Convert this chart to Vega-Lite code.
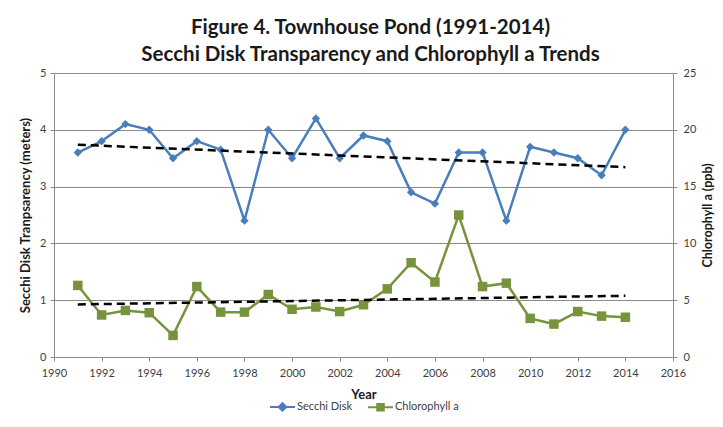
{
  "$schema": "https://vega.github.io/schema/vega-lite/v6.json",
  "width": 619,
  "height": 284,
  "autosize": "none",
  "padding": {"left": 54, "top": 73, "right": 50, "bottom": 70},
  "background": "white",
  "title": {
    "text": ["Figure 4. Townhouse Pond (1991-2014)", "Secchi Disk Transparency and Chlorophyll a Trends"],
    "font": "Lato",
    "fontSize": 20.5,
    "fontWeight": "bold",
    "color": "#1a1a1a",
    "lineHeight": 27,
    "anchor": "middle",
    "dx": 7,
    "offset": 2
  },
  "data": {
    "values": [
      {"year": 1991, "series": "Secchi Disk", "value": 3.6},
      {"year": 1992, "series": "Secchi Disk", "value": 3.8},
      {"year": 1993, "series": "Secchi Disk", "value": 4.1},
      {"year": 1994, "series": "Secchi Disk", "value": 4.0},
      {"year": 1995, "series": "Secchi Disk", "value": 3.5},
      {"year": 1996, "series": "Secchi Disk", "value": 3.8},
      {"year": 1997, "series": "Secchi Disk", "value": 3.65},
      {"year": 1998, "series": "Secchi Disk", "value": 2.4},
      {"year": 1999, "series": "Secchi Disk", "value": 4.0},
      {"year": 2000, "series": "Secchi Disk", "value": 3.5},
      {"year": 2001, "series": "Secchi Disk", "value": 4.2},
      {"year": 2002, "series": "Secchi Disk", "value": 3.5},
      {"year": 2003, "series": "Secchi Disk", "value": 3.9},
      {"year": 2004, "series": "Secchi Disk", "value": 3.8},
      {"year": 2005, "series": "Secchi Disk", "value": 2.9},
      {"year": 2006, "series": "Secchi Disk", "value": 2.7},
      {"year": 2007, "series": "Secchi Disk", "value": 3.6},
      {"year": 2008, "series": "Secchi Disk", "value": 3.6},
      {"year": 2009, "series": "Secchi Disk", "value": 2.4},
      {"year": 2010, "series": "Secchi Disk", "value": 3.7},
      {"year": 2011, "series": "Secchi Disk", "value": 3.6},
      {"year": 2012, "series": "Secchi Disk", "value": 3.5},
      {"year": 2013, "series": "Secchi Disk", "value": 3.2},
      {"year": 2014, "series": "Secchi Disk", "value": 4.0},
      {"year": 1991, "series": "Chlorophyll a", "value": 6.3},
      {"year": 1992, "series": "Chlorophyll a", "value": 3.7},
      {"year": 1993, "series": "Chlorophyll a", "value": 4.1},
      {"year": 1994, "series": "Chlorophyll a", "value": 3.9},
      {"year": 1995, "series": "Chlorophyll a", "value": 1.9},
      {"year": 1996, "series": "Chlorophyll a", "value": 6.2},
      {"year": 1997, "series": "Chlorophyll a", "value": 3.95},
      {"year": 1998, "series": "Chlorophyll a", "value": 3.95},
      {"year": 1999, "series": "Chlorophyll a", "value": 5.5},
      {"year": 2000, "series": "Chlorophyll a", "value": 4.2},
      {"year": 2001, "series": "Chlorophyll a", "value": 4.4},
      {"year": 2002, "series": "Chlorophyll a", "value": 4.0},
      {"year": 2003, "series": "Chlorophyll a", "value": 4.6},
      {"year": 2004, "series": "Chlorophyll a", "value": 6.0},
      {"year": 2005, "series": "Chlorophyll a", "value": 8.3},
      {"year": 2006, "series": "Chlorophyll a", "value": 6.6},
      {"year": 2007, "series": "Chlorophyll a", "value": 12.5},
      {"year": 2008, "series": "Chlorophyll a", "value": 6.2},
      {"year": 2009, "series": "Chlorophyll a", "value": 6.5},
      {"year": 2010, "series": "Chlorophyll a", "value": 3.4},
      {"year": 2011, "series": "Chlorophyll a", "value": 2.9},
      {"year": 2012, "series": "Chlorophyll a", "value": 4.0},
      {"year": 2013, "series": "Chlorophyll a", "value": 3.6},
      {"year": 2014, "series": "Chlorophyll a", "value": 3.5}
    ]
  },
  "encoding": {
    "x": {
      "field": "year",
      "type": "quantitative",
      "scale": {"domain": [1990, 2016], "nice": false, "zero": false},
      "axis": {
        "title": "Year",
        "values": [1990, 1992, 1994, 1996, 1998, 2000, 2002, 2004, 2006, 2008, 2010, 2012, 2014, 2016],
        "format": "d",
        "grid": false,
        "labelFlush": false,
        "tickSize": 4,
        "labelPadding": 6,
        "titlePadding": 10
      }
    }
  },
  "layer": [
    {
      "transform": [{"filter": "datum.series === 'Secchi Disk'"}],
      "encoding": {
        "y": {
          "field": "value",
          "type": "quantitative",
          "scale": {"domain": [0, 5], "nice": false},
          "axis": {
            "orient": "left",
            "title": "Secchi Disk Tranpsarency (meters)",
            "titleFontSize": 13,
            "values": [0, 1, 2, 3, 4, 5],
            "grid": true,
            "tickSize": 4,
            "labelPadding": 4,
            "titlePadding": 7
          }
        }
      },
      "layer": [
        {
          "mark": {"type": "line", "strokeWidth": 2.5, "point": {"shape": "diamond", "size": 70, "filled": true, "opacity": 1}},
          "encoding": {
            "color": {
              "field": "series",
              "type": "nominal",
              "scale": {"domain": ["Secchi Disk", "Chlorophyll a"], "range": ["#4A7EBB", "#77933C"]},
              "legend": {
                "orient": "bottom",
                "title": null,
                "direction": "horizontal",
                "symbolSize": 625,
                "labelOffset": 1,
                "columnPadding": 12,
                "offset": -8,
                "encode": {
                  "symbols": {
                    "update": {
                      "shape": {"signal": "datum.value === 'Secchi Disk' ? 'M-1,0L1,0M0,-0.3L0.3,0L0,0.3L-0.3,0Z' : 'M-1,0L1,0M-0.26,-0.26L0.26,-0.26L0.26,0.26L-0.26,0.26Z'"},
                      "fill": {"signal": "datum.value === 'Secchi Disk' ? '#4A7EBB' : '#77933C'"},
                      "stroke": {"signal": "datum.value === 'Secchi Disk' ? '#4A7EBB' : '#77933C'"},
                      "strokeWidth": {"value": 2},
                      "opacity": {"value": 1},
                      "fillOpacity": {"value": 1}
                    }
                  }
                }
              }
            }
          }
        },
        {
          "transform": [{"regression": "value", "on": "year", "extent": [1991, 2014]}],
          "mark": {"type": "line", "color": "black", "strokeWidth": 2.5, "strokeDash": [8, 5]}
        }
      ]
    },
    {
      "transform": [{"filter": "datum.series === 'Chlorophyll a'"}],
      "encoding": {
        "y": {
          "field": "value",
          "type": "quantitative",
          "scale": {"domain": [0, 25], "nice": false},
          "axis": {
            "orient": "right",
            "title": "Chlorophyll a (ppb)",
            "titleFontSize": 12.5,
            "titleAngle": 270,
            "titleBaseline": "top",
            "values": [0, 5, 10, 15, 20, 25],
            "grid": false,
            "tickSize": 4,
            "labelPadding": 6,
            "titlePadding": 6
          }
        }
      },
      "layer": [
        {
          "mark": {"type": "line", "strokeWidth": 2.5, "point": {"shape": "square", "size": 90, "filled": true, "opacity": 1}},
          "encoding": {
            "color": {"field": "series", "type": "nominal"}
          }
        },
        {
          "transform": [{"regression": "value", "on": "year", "extent": [1991, 2014]}],
          "mark": {"type": "line", "color": "black", "strokeWidth": 2.5, "strokeDash": [8, 5]}
        }
      ]
    }
  ],
  "resolve": {"scale": {"y": "independent"}},
  "config": {
    "view": {"stroke": null},
    "font": "Lato",
    "axis": {
      "labelFont": "Lato",
      "labelFontSize": 11,
      "labelColor": "#404040",
      "titleFont": "Lato",
      "titleFontSize": 12,
      "titleFontWeight": "bold",
      "titleColor": "#1a1a1a",
      "domainColor": "#8c8c8c",
      "tickColor": "#8c8c8c",
      "gridColor": "#8c8c8c",
      "gridWidth": 1
    },
    "axisX": {"titleFontSize": 13},
    "legend": {
      "labelFont": "Lato",
      "labelFontSize": 11,
      "labelColor": "#404040",
      "layout": {"bottom": {"anchor": "middle"}}
    }
  }
}
